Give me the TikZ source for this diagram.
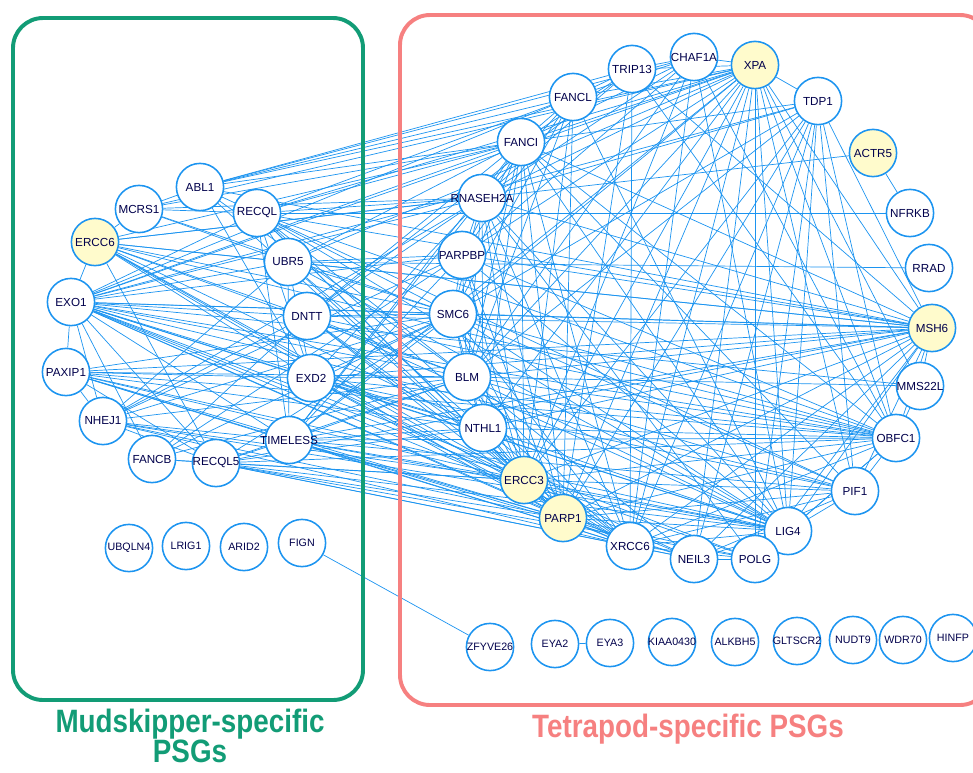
\documentclass[tikz,border=0pt]{standalone}
\usepackage{fontspec}
\setmainfont{Liberation Sans}
\newfontfamily\titlefont[FakeStretch=0.86]{Liberation Sans}
\usetikzlibrary{backgrounds}

\definecolor{linkblue}{RGB}{28,148,240}
\definecolor{hitfill}{RGB}{255,251,204}
\definecolor{mudgreen}{RGB}{18,156,118}
\definecolor{tetrared}{RGB}{246,128,128}

\begin{document}
\begin{tikzpicture}[x=0.025cm,y=-0.025cm]
	
	% ------------------------------------------------------------
	% Styles
	% ------------------------------------------------------------
	\tikzset{
		gene/.style={circle,draw=linkblue,line width=1.1pt,fill=white,
			minimum size=1.18cm,inner sep=0pt,font=\fontsize{8.3}{9}\selectfont,
			text=black!70!blue,
			execute at begin node={\hbox to 0pt\bgroup\hss},
			execute at end node={\hss\egroup}},
		psg/.style={gene,fill=hitfill},
		lone/.style={gene,font=\fontsize{7.6}{9}\selectfont},
		link/.style={draw=linkblue,line width=0.5pt},
		groupbox/.style={line width=2.8pt,rounded corners=0.75cm},
		grouptitle/.style={font=\titlefont\bfseries\fontsize{23}{20}\selectfont,
			align=center,inner sep=1pt}
	}
	
	\useasboundingbox (0,0) rectangle (973,772);
	
	% ============================================================
	% Group frames and titles
	% ============================================================
	\draw[groupbox,draw=mudgreen] (13,18) rectangle (363,700);
	\draw[groupbox,draw=tetrared] (400,15) rectangle (990,705);
	
	\node[grouptitle,text=mudgreen] (mudtitle) at (190,736)
	{Mudskipper-specific\\PSGs};
	\node[grouptitle,text=tetrared] (tetratitle) at (688,729)
	{Tetrapod-specific PSGs};
	
	% ============================================================
	% LEFT: mudskipper-specific genes
	% ============================================================
	\node[gene] (ABL1)     at (200,187) {ABL1};
	\node[gene] (MCRS1)    at (139,209) {MCRS1};
	\node[gene] (RECQL)    at (257,213) {RECQL};
	\node[psg]  (ERCC6)    at (95,242)  {ERCC6};
	\node[gene] (UBR5)     at (288,262) {UBR5};
	\node[gene] (EXO1)     at (71,302)  {EXO1};
	\node[gene] (DNTT)     at (307,316) {DNTT};
	\node[gene] (PAXIP1)   at (66,372)  {PAXIP1};
	\node[gene] (EXD2)     at (311,378) {EXD2};
	\node[gene] (NHEJ1)    at (103,421) {NHEJ1};
	\node[gene] (TIMELESS) at (289,440) {TIMELESS};
	\node[gene] (FANCB)    at (152,459) {FANCB};
	\node[gene] (RECQL5)   at (216,463) {RECQL5};
	
	% unconnected ones
	\node[lone] (UBQLN4) at (129,548) {UBQLN4};
	\node[lone] (LRIG1)  at (186,546) {LRIG1};
	\node[lone] (ARID2)  at (244,547) {ARID2};
	\node[lone] (FIGN)   at (302,543) {FIGN};
	
	% ============================================================
	% RIGHT: tetrapod-specific genes
	% ============================================================
	\node[gene] (TRIP13)   at (632,69)  {TRIP13};
	\node[gene] (CHAF1A)   at (694,57)  {CHAF1A};
	\node[psg]  (XPA)      at (755,65)  {XPA};
	\node[gene] (FANCL)    at (573,97)  {FANCL};
	\node[gene] (TDP1)     at (818,101) {TDP1};
	\node[gene] (FANCI)    at (521,142) {FANCI};
	\node[psg]  (ACTR5)    at (873,153) {ACTR5};
	\node[gene] (RNASEH2A) at (482,198) {RNASEH2A};
	\node[gene] (NFRKB)    at (910,213) {NFRKB};
	\node[gene] (PARPBP)   at (462,255) {PARPBP};
	\node[gene] (RRAD)     at (929,268) {RRAD};
	\node[gene] (SMC6)     at (453,314) {SMC6};
	\node[psg]  (MSH6)     at (932,328) {MSH6};
	\node[gene] (BLM)      at (467,377) {BLM};
	\node[gene] (MMS22L)   at (920,386) {MMS22L};
	\node[gene] (NTHL1)    at (483,428) {NTHL1};
	\node[gene] (OBFC1)    at (896,438) {OBFC1};
	\node[psg]  (ERCC3)    at (524,480) {ERCC3};
	\node[gene] (PIF1)     at (855,491) {PIF1};
	\node[psg]  (PARP1)    at (563,518) {PARP1};
	\node[gene] (LIG4)     at (788,531) {LIG4};
	\node[gene] (XRCC6)    at (630,546) {XRCC6};
	\node[gene] (NEIL3)    at (694,559) {NEIL3};
	\node[gene] (POLG)     at (755,559) {POLG};
	
	% unconnected row (apart from two pairs)
	\node[lone] (ZFYVE26)  at (490,647) {ZFYVE26};
	\node[lone] (EYA2)     at (555,644) {EYA2};
	\node[lone] (EYA3)     at (610,643) {EYA3};
	\node[lone] (KIAA0430) at (672,642) {KIAA0430};
	\node[lone] (ALKBH5)   at (735,642) {ALKBH5};
	\node[lone] (GLTSCR2)  at (797,641) {GLTSCR2};
	\node[lone] (NUDT9)    at (853,640) {NUDT9};
	\node[lone] (WDR70)    at (903,640) {WDR70};
	\node[lone] (HINFP)    at (953,638) {HINFP};
	
	% ============================================================
	% Interactions (behind the nodes)
	% ============================================================
	\begin{scope}[on background layer]
		% inside the mudskipper group
		\foreach \a/\b in {ABL1/MCRS1,ABL1/RECQL,MCRS1/RECQL,ERCC6/EXO1,
			EXO1/PAXIP1,PAXIP1/NHEJ1,EXO1/NHEJ1,ERCC6/RECQL5,ERCC6/UBR5,
			ERCC6/DNTT,ERCC6/EXD2,EXO1/DNTT,EXO1/EXD2,EXO1/TIMELESS,
			EXO1/RECQL5,EXO1/UBR5,EXO1/RECQL,EXO1/FANCB,PAXIP1/EXD2,
			PAXIP1/TIMELESS,PAXIP1/RECQL5,NHEJ1/TIMELESS,NHEJ1/RECQL5,
			NHEJ1/DNTT,FANCB/DNTT,FANCB/RECQL5,RECQL5/TIMELESS,RECQL/UBR5,
			RECQL/EXD2,RECQL/TIMELESS,UBR5/EXD2,ABL1/EXD2,MCRS1/UBR5,
			UBR5/TIMELESS,ERCC6/MCRS1,NHEJ1/UBR5}
		\draw[link] (\a) -- (\b);
		
		% mudskipper group -> tetrapod group
		\foreach \a/\b in {ABL1/FANCL,ABL1/TRIP13,ABL1/CHAF1A,ABL1/XPA,
			ABL1/FANCI,ABL1/MSH6,ABL1/PARP1,ABL1/BLM,
			MCRS1/FANCI,MCRS1/RNASEH2A,MCRS1/XPA,MCRS1/SMC6,
			ERCC6/FANCI,ERCC6/RNASEH2A,ERCC6/SMC6,ERCC6/BLM,ERCC6/NTHL1,
			ERCC6/ERCC3,ERCC6/PARP1,ERCC6/MSH6,ERCC6/XRCC6,ERCC6/OBFC1,
			ERCC6/ACTR5,
			RECQL/FANCL,RECQL/FANCI,RECQL/RNASEH2A,RECQL/NFRKB,RECQL/SMC6,
			RECQL/BLM,RECQL/MSH6,RECQL/ERCC3,RECQL/PARP1,RECQL/LIG4,
			RECQL/XRCC6,RECQL/PIF1,RECQL/OBFC1,RECQL/XPA,
			UBR5/RRAD,UBR5/PARPBP,UBR5/SMC6,UBR5/MSH6,UBR5/NTHL1,
			UBR5/ERCC3,UBR5/LIG4,UBR5/XPA,UBR5/FANCI,
			EXO1/FANCI,EXO1/FANCL,EXO1/RNASEH2A,EXO1/PARPBP,EXO1/SMC6,
			EXO1/BLM,EXO1/NTHL1,EXO1/ERCC3,EXO1/PARP1,EXO1/XRCC6,
			EXO1/LIG4,EXO1/OBFC1,EXO1/MSH6,EXO1/PIF1,EXO1/MMS22L,
			EXO1/TDP1,EXO1/XPA,EXO1/POLG,EXO1/NEIL3,
			DNTT/SMC6,DNTT/MSH6,DNTT/BLM,DNTT/PARP1,DNTT/ERCC3,DNTT/LIG4,
			DNTT/XRCC6,DNTT/RNASEH2A,DNTT/FANCI,DNTT/TRIP13,DNTT/OBFC1,
			PAXIP1/BLM,PAXIP1/ERCC3,PAXIP1/PARP1,PAXIP1/LIG4,PAXIP1/XRCC6,
			PAXIP1/OBFC1,PAXIP1/MSH6,PAXIP1/NTHL1,PAXIP1/SMC6,
			EXD2/BLM,EXD2/NTHL1,EXD2/ERCC3,EXD2/PARP1,EXD2/XRCC6,
			EXD2/LIG4,EXD2/PIF1,EXD2/MSH6,EXD2/SMC6,EXD2/OBFC1,
			EXD2/RNASEH2A,
			NHEJ1/SMC6,NHEJ1/PARPBP,NHEJ1/RNASEH2A,NHEJ1/BLM,NHEJ1/ERCC3,
			NHEJ1/XRCC6,NHEJ1/LIG4,NHEJ1/PARP1,
			FANCB/BLM,FANCB/SMC6,FANCB/PARPBP,FANCB/ERCC3,
			TIMELESS/SMC6,TIMELESS/BLM,TIMELESS/NTHL1,TIMELESS/ERCC3,
			TIMELESS/PARP1,TIMELESS/XRCC6,TIMELESS/LIG4,TIMELESS/PIF1,
			TIMELESS/OBFC1,TIMELESS/MSH6,TIMELESS/FANCI,TIMELESS/RNASEH2A,
			TIMELESS/PARPBP,TIMELESS/XPA,TIMELESS/NEIL3,
			RECQL5/NTHL1,RECQL5/ERCC3,RECQL5/PARP1,RECQL5/XRCC6,
			RECQL5/LIG4,RECQL5/BLM,RECQL5/SMC6,RECQL5/MSH6,RECQL5/NEIL3,
			RECQL5/POLG,RECQL5/OBFC1,
			FIGN/ZFYVE26}
		\draw[link] (\a) -- (\b);
		
		% inside the tetrapod group
		\foreach \a/\b in {XPA/TDP1,XPA/CHAF1A,XPA/TRIP13,XPA/FANCL,
			XPA/FANCI,XPA/RNASEH2A,XPA/PARPBP,XPA/SMC6,XPA/BLM,XPA/NTHL1,
			XPA/ERCC3,XPA/PARP1,XPA/XRCC6,XPA/NEIL3,XPA/POLG,XPA/LIG4,
			XPA/PIF1,XPA/OBFC1,XPA/MSH6,XPA/MMS22L,
			TDP1/FANCI,TDP1/RNASEH2A,TDP1/BLM,TDP1/ERCC3,TDP1/PARP1,
			TDP1/XRCC6,TDP1/NEIL3,TDP1/POLG,TDP1/LIG4,TDP1/PIF1,
			TDP1/OBFC1,TDP1/MSH6,TDP1/SMC6,
			CHAF1A/TRIP13,CHAF1A/FANCL,CHAF1A/FANCI,CHAF1A/RNASEH2A,
			CHAF1A/PARPBP,CHAF1A/BLM,CHAF1A/ERCC3,CHAF1A/XRCC6,
			CHAF1A/LIG4,CHAF1A/OBFC1,
			TRIP13/FANCL,TRIP13/FANCI,TRIP13/RNASEH2A,TRIP13/PARP1,
			TRIP13/MSH6,TRIP13/XRCC6,TRIP13/OBFC1,
			FANCL/FANCI,FANCL/RNASEH2A,FANCL/PARPBP,FANCL/SMC6,FANCL/BLM,
			FANCL/ERCC3,FANCL/PARP1,FANCL/LIG4,
			FANCI/RNASEH2A,FANCI/PARPBP,FANCI/SMC6,FANCI/BLM,FANCI/NTHL1,
			FANCI/ERCC3,FANCI/PARP1,FANCI/MSH6,FANCI/LIG4,FANCI/XRCC6,
			FANCI/OBFC1,FANCI/PIF1,
			ACTR5/NFRKB,
			RNASEH2A/PARPBP,RNASEH2A/SMC6,RNASEH2A/BLM,RNASEH2A/NTHL1,
			RNASEH2A/ERCC3,RNASEH2A/PARP1,RNASEH2A/LIG4,RNASEH2A/MSH6,
			RNASEH2A/XRCC6,RNASEH2A/POLG,
			PARPBP/SMC6,PARPBP/BLM,PARPBP/ERCC3,PARPBP/PARP1,PARPBP/MSH6,
			PARPBP/LIG4,PARPBP/OBFC1,
			SMC6/BLM,SMC6/NTHL1,SMC6/ERCC3,SMC6/PARP1,SMC6/MSH6,SMC6/LIG4,
			SMC6/XRCC6,SMC6/OBFC1,SMC6/PIF1,
			BLM/NTHL1,BLM/ERCC3,BLM/PARP1,BLM/MSH6,BLM/LIG4,BLM/XRCC6,
			BLM/OBFC1,BLM/PIF1,BLM/MMS22L,BLM/NEIL3,
			NTHL1/ERCC3,NTHL1/PARP1,NTHL1/LIG4,NTHL1/XRCC6,NTHL1/MSH6,
			NTHL1/OBFC1,
			ERCC3/PARP1,ERCC3/XRCC6,ERCC3/LIG4,ERCC3/MSH6,ERCC3/OBFC1,
			ERCC3/PIF1,ERCC3/POLG,ERCC3/NEIL3,
			PARP1/XRCC6,PARP1/LIG4,PARP1/NEIL3,PARP1/POLG,PARP1/MSH6,
			PARP1/OBFC1,PARP1/PIF1,
			XRCC6/LIG4,XRCC6/NEIL3,XRCC6/POLG,XRCC6/MSH6,XRCC6/OBFC1,
			XRCC6/PIF1,
			NEIL3/LIG4,NEIL3/POLG,NEIL3/MSH6,NEIL3/PIF1,
			POLG/LIG4,POLG/MSH6,POLG/OBFC1,
			LIG4/PIF1,LIG4/OBFC1,LIG4/MSH6,
			PIF1/OBFC1,PIF1/MSH6,OBFC1/MSH6,OBFC1/MMS22L,MMS22L/MSH6,
			EYA2/EYA3}
		\draw[link] (\a) -- (\b);
	\end{scope}
	
\end{tikzpicture}
\end{document}
